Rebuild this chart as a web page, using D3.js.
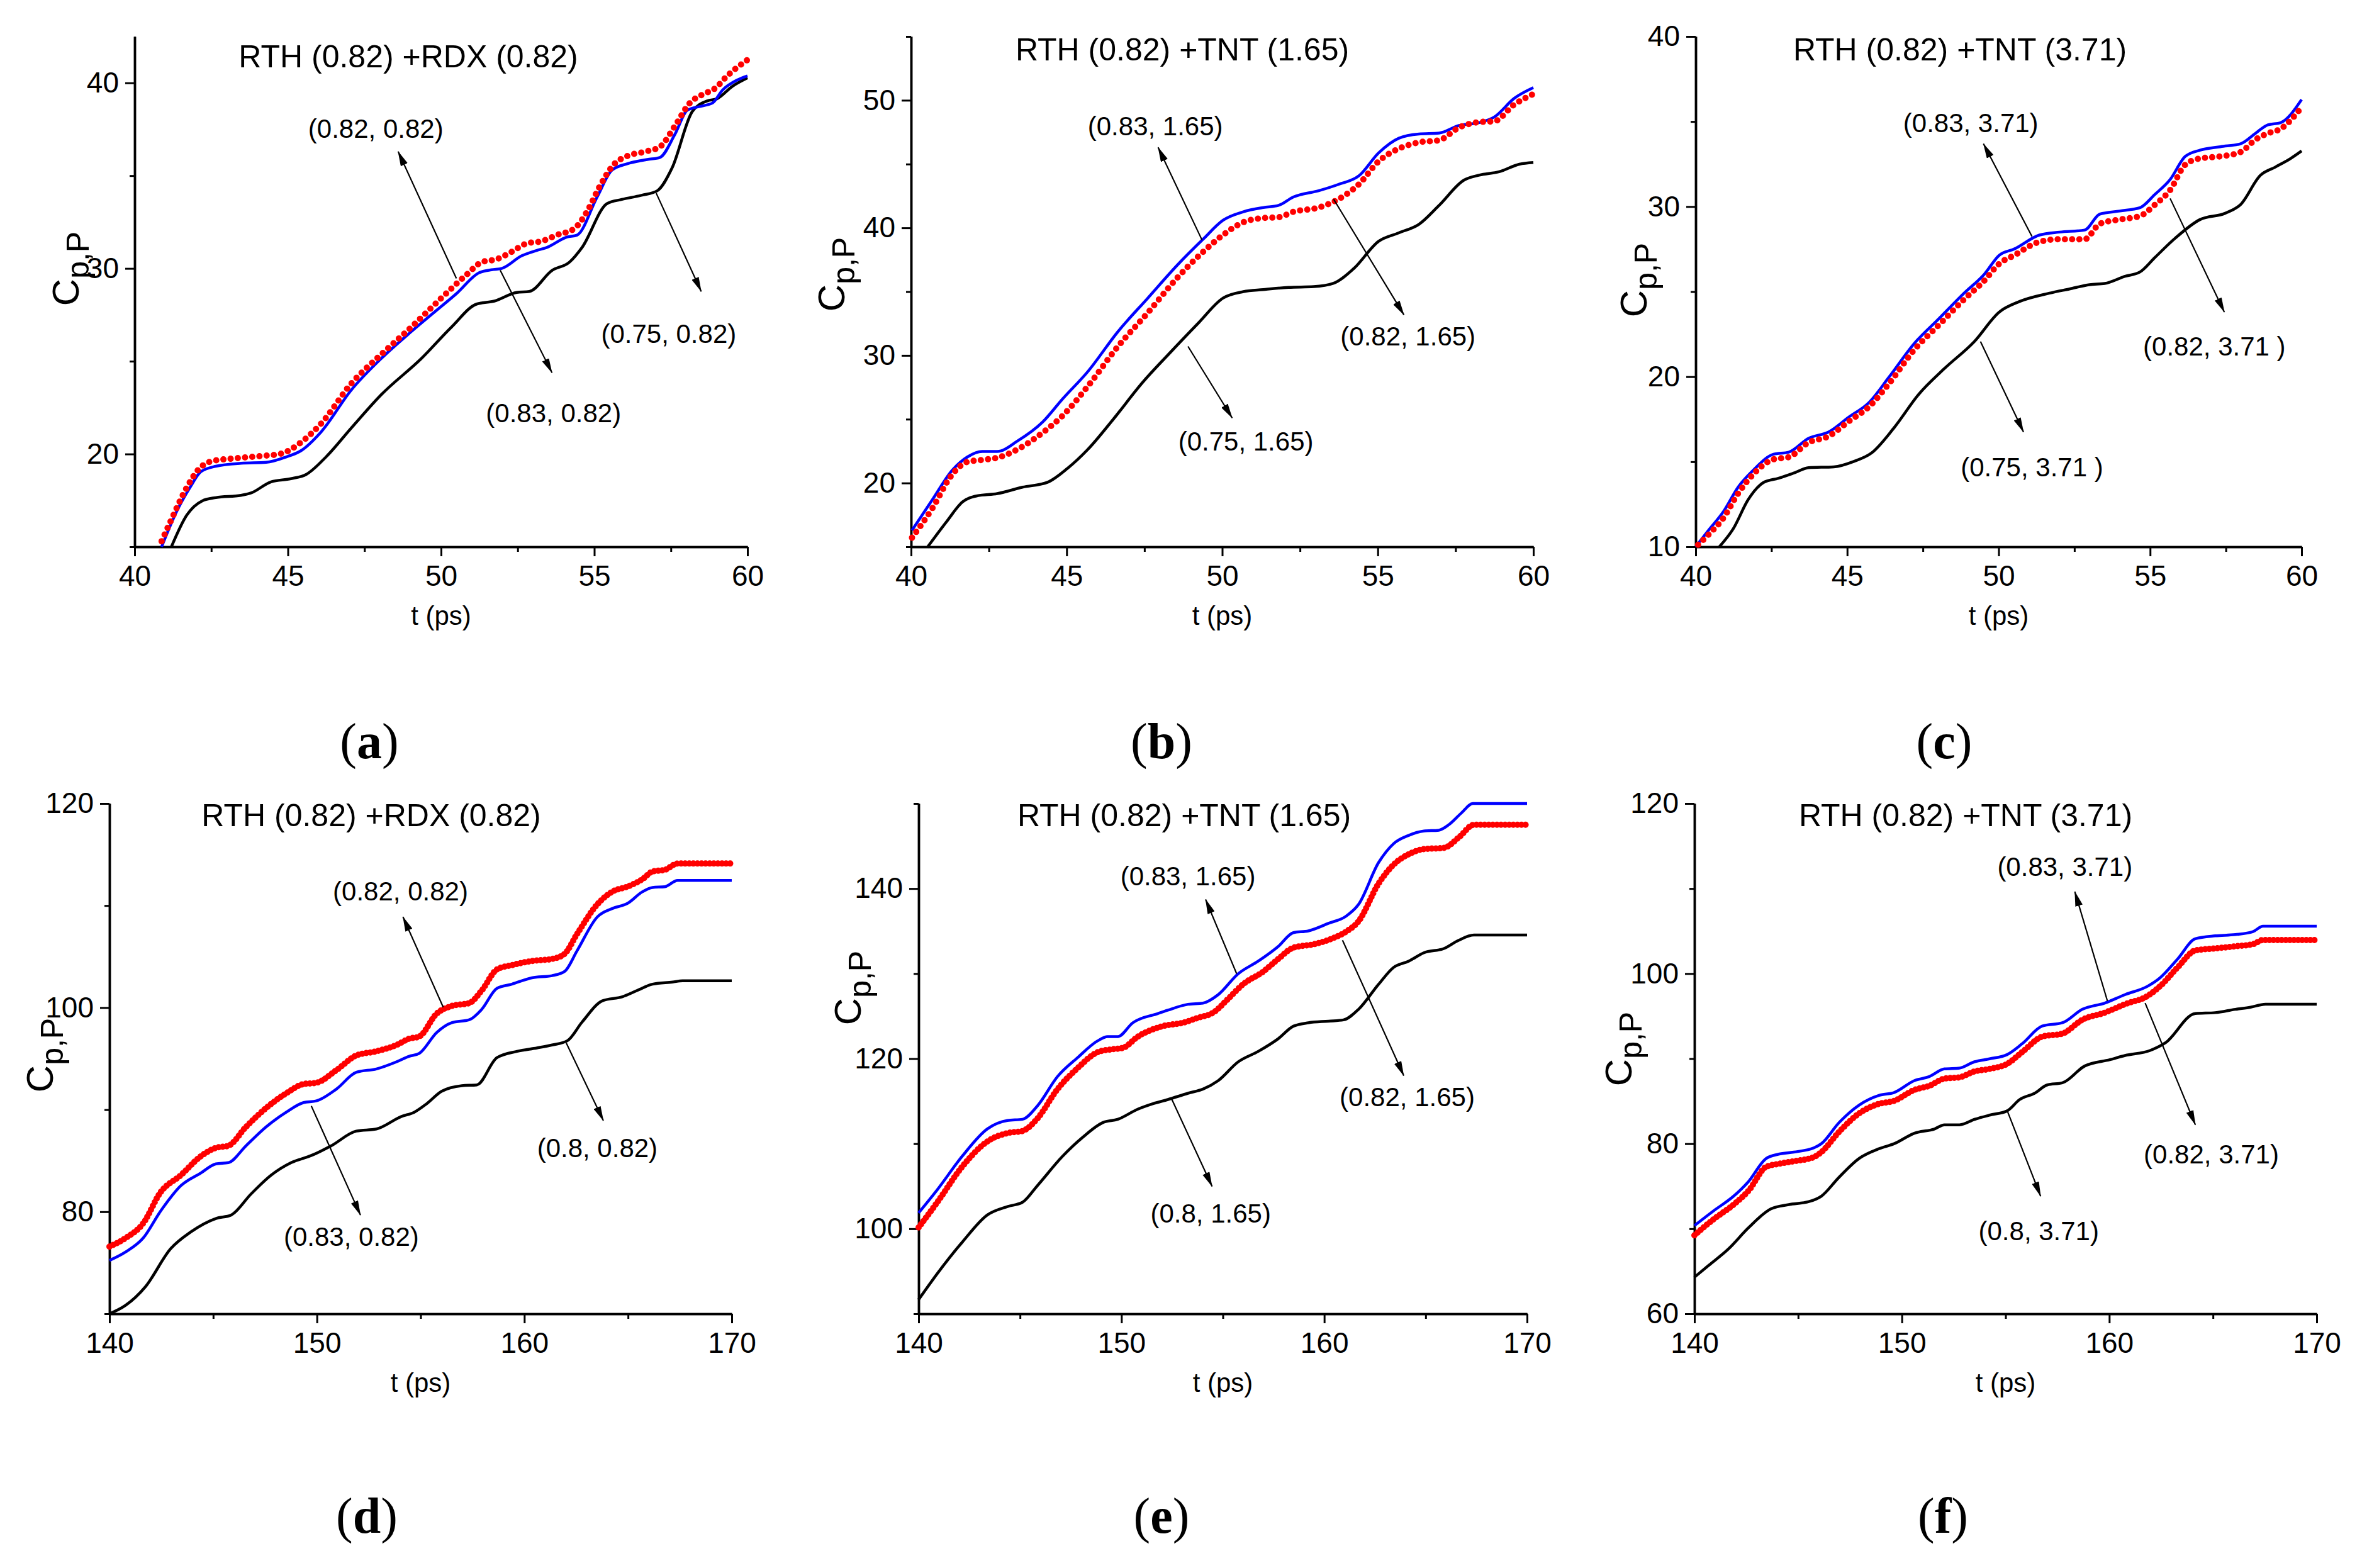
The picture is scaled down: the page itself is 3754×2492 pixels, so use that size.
<!DOCTYPE html>
<html><head><meta charset="utf-8">
<script src="https://cdn.jsdelivr.net/npm/d3@7/dist/d3.min.js"></script>
<style>
body{margin:0;background:#fff}
text{font-family:"Liberation Sans",Arial,Helvetica,sans-serif;fill:#000}
</style>
</head><body>
<svg id="chart" width="3754" height="2492"></svg>
<script>
// ---------------- DATA ----------------
// Panel (a)  RTH (0.82) +RDX (0.82)
const a_black = [[41.2,15.0],[41.7,16.7],[42.2,17.47],[42.65,17.65],[43.47,17.77],[43.8,17.9],[44.45,18.5],[45.1,18.67],[45.6,18.9],[46.25,19.85],[47.07,21.4],[48.05,23.2],[49.36,25.15],[50.34,26.84],[51.16,28.08],[51.74,28.24],[52.47,28.71],[52.88,28.76],[53.62,29.89],[54.19,30.34],[54.6,31.13],[55.42,33.5],[55.9,33.72],[56.56,33.95],[57.05,34.18],[57.54,35.42],[58.2,38.46],[58.69,39.03],[59.0,39.14],[59.51,39.82],[60,40.27]];
const a_blue = [[40.88,15.0],[41.34,16.8],[41.83,18.26],[42.16,19.05],[42.65,19.34],[43.47,19.5],[44.29,19.55],[44.94,19.84],[45.43,20.18],[46.09,21.2],[47.07,23.45],[48.05,25.15],[49.03,26.6],[49.85,27.74],[50.5,28.64],[51.24,29.77],[51.65,29.93],[51.98,30.0],[52.63,30.68],[53.12,30.97],[53.45,31.13],[54.1,31.69],[54.44,31.8],[55.09,33.84],[55.58,35.3],[56.07,35.64],[56.73,35.87],[57.14,35.98],[57.63,37.22],[58.04,38.53],[58.53,38.76],[58.86,38.92],[59.18,39.6],[59.67,40.16],[60,40.38]];
const a_red = [[40.88,15.3],[41.18,16.4],[41.67,18.1],[42.08,19.16],[42.49,19.6],[43.3,19.77],[44.12,19.89],[44.78,20.02],[45.43,20.63],[46.09,21.65],[47.07,23.8],[48.05,25.37],[49.03,26.84],[50.02,28.42],[50.83,29.66],[51.33,30.34],[51.82,30.5],[52.31,30.9],[52.8,31.35],[53.29,31.47],[53.78,31.8],[54.35,32.15],[54.76,33.05],[55.17,34.4],[55.66,35.64],[56.07,36.05],[56.73,36.32],[57.14,36.55],[57.63,37.67],[58.12,38.92],[58.53,39.37],[58.94,39.7],[59.34,40.38],[60,41.24]];

// Panel (b)  RTH (0.82) +TNT (1.65)
const b_black = [[40.52,14.95],[41.16,17.03],[41.65,18.51],[42.13,19.0],[42.77,19.17],[43.58,19.67],[44.39,20.06],[45.03,21.15],[45.68,22.63],[46.48,24.94],[47.45,27.91],[48.26,30.05],[49.23,32.53],[50.03,34.5],[50.68,35.0],[51.32,35.16],[52.13,35.33],[52.94,35.39],[53.58,35.66],[54.23,36.81],[55.03,38.95],[55.68,39.61],[56.32,40.27],[56.97,41.76],[57.77,43.74],[58.26,44.13],[58.9,44.4],[59.55,44.99],[60,45.12]];
const b_blue = [[40.03,16.3],[40.68,18.67],[41.32,20.99],[41.81,22.04],[42.29,22.47],[42.77,22.47],[43.42,23.29],[44.23,24.78],[44.87,26.59],[45.68,28.73],[46.65,31.87],[47.61,34.5],[48.58,37.14],[49.39,39.12],[50.03,40.6],[50.68,41.26],[51.32,41.59],[51.81,41.76],[52.29,42.42],[53.1,42.91],[53.74,43.41],[54.39,44.07],[55.03,45.88],[55.68,47.03],[56.32,47.36],[56.97,47.43],[57.61,48.02],[58.26,48.25],[58.74,48.68],[59.39,50.16],[60,50.99]];
const b_red = [[40.03,15.71],[40.68,18.0],[41.32,20.66],[41.81,21.65],[42.29,21.81],[42.77,21.98],[43.42,22.63],[44.23,23.95],[44.87,25.27],[45.68,27.58],[46.65,30.71],[47.61,33.35],[48.58,36.15],[49.39,38.13],[50.03,39.45],[50.68,40.44],[51.32,40.77],[51.81,40.83],[52.29,41.26],[53.1,41.59],[53.74,42.25],[54.39,43.41],[55.03,45.22],[55.68,46.21],[56.32,46.7],[56.97,46.87],[57.61,47.86],[58.26,48.29],[58.74,48.35],[59.39,49.67],[60,50.49]];

// Panel (c)  RTH (0.82) +TNT (3.71)
const c_black = [[40.78,10.0],[41.24,11.06],[41.74,12.79],[42.24,13.78],[42.73,14.03],[43.23,14.33],[43.73,14.65],[44.56,14.7],[45.22,15.02],[45.8,15.51],[46.55,17.0],[47.37,18.98],[48.2,20.46],[49.2,22.07],[50.02,23.8],[50.69,24.42],[51.68,24.91],[52.34,25.16],[53.0,25.41],[53.5,25.48],[54.17,25.9],[54.66,26.15],[55.16,27.01],[55.82,28.13],[56.65,29.24],[57.48,29.61],[57.98,30.11],[58.64,31.84],[59.14,32.33],[59.64,32.83],[60,33.27]];
const c_blue = [[40,10.0],[40.41,10.94],[40.91,12.05],[41.41,13.53],[41.91,14.52],[42.57,15.44],[43.07,15.56],[43.73,16.38],[44.39,16.75],[45.05,17.62],[45.72,18.48],[46.38,19.97],[47.21,21.94],[48.04,23.43],[48.86,24.91],[49.53,26.03],[50.02,27.14],[50.52,27.51],[51.35,28.33],[52.01,28.5],[52.84,28.62],[53.34,29.56],[54.0,29.74],[54.66,29.93],[55.16,30.72],[55.66,31.59],[56.16,32.95],[56.65,33.32],[57.32,33.52],[57.98,33.69],[58.48,34.31],[58.89,34.81],[59.3,34.93],[60,36.29]];
const c_red = [[40.08,10.12],[40.41,10.69],[40.91,11.68],[41.41,13.16],[41.91,14.28],[42.57,15.14],[43.07,15.27],[43.73,16.13],[44.39,16.5],[45.05,17.37],[45.72,18.23],[46.38,19.59],[47.21,21.57],[48.04,23.06],[48.86,24.54],[49.53,25.65],[50.02,26.64],[50.52,27.14],[51.35,27.93],[52.01,28.08],[52.84,28.08],[53.34,28.99],[54.0,29.24],[54.66,29.44],[55.16,30.11],[55.66,30.97],[56.16,32.46],[56.65,32.83],[57.32,32.95],[57.98,33.2],[58.48,33.94],[58.89,34.31],[59.3,34.56],[60,35.84]];

// Panel (d)  RTH (0.82) +RDX (0.82)
const d_black = [[140,70.0],[140.77,70.82],[141.74,72.67],[142.95,76.38],[143.92,78.02],[145.13,79.34],[145.86,79.67],[146.82,81.73],[147.79,83.58],[148.76,84.81],[149.73,85.51],[150.69,86.46],[151.9,87.9],[152.87,88.11],[154.08,89.34],[154.69,89.75],[155.29,90.58],[156.02,91.81],[156.99,92.35],[157.71,92.43],[158.68,95.1],[159.65,95.72],[160.61,96.05],[161.34,96.34],[162.07,96.75],[162.79,98.6],[163.76,100.66],[164.73,101.07],[165.45,101.69],[166.18,102.3],[167.15,102.51],[167.63,102.63],[170,102.63]];
const d_blue = [[140,75.23],[140.77,76.05],[141.62,77.41],[142.47,80.08],[143.44,82.55],[144.4,83.79],[145.13,84.69],[145.73,84.81],[146.58,86.46],[147.55,88.31],[148.52,89.75],[149.36,90.7],[149.97,90.86],[150.94,92.02],[151.9,93.66],[152.87,93.99],[153.84,94.69],[154.44,95.23],[154.93,95.51],[155.78,97.57],[156.5,98.52],[157.35,98.81],[157.95,99.84],[158.68,101.89],[159.4,102.3],[160.37,102.92],[161.34,103.13],[161.94,103.54],[162.55,105.6],[163.52,108.89],[164.24,109.71],[164.97,110.21],[165.7,111.36],[166.18,111.77],[166.78,111.85],[167.39,112.47],[170,112.47]];
const d_red = [[140,76.58],[140.77,77.41],[141.62,78.85],[142.47,81.93],[143.44,83.58],[144.4,85.43],[145.13,86.26],[145.73,86.46],[146.58,88.31],[147.55,90.16],[148.52,91.6],[149.36,92.51],[149.97,92.63],[150.94,93.87],[151.9,95.31],[152.87,95.72],[153.84,96.34],[154.44,96.95],[154.93,97.16],[155.78,99.42],[156.5,100.16],[157.35,100.45],[157.95,101.69],[158.68,103.74],[159.4,104.16],[160.37,104.57],[161.34,104.77],[161.94,105.27],[162.55,107.24],[163.52,110.12],[164.24,111.36],[164.97,111.85],[165.7,112.59],[166.18,113.33],[166.78,113.5],[167.39,114.12],[170,114.12]];

// Panel (e)  RTH (0.82) +TNT (1.65)
const e_black = [[140,91.67],[140.92,94.72],[142.15,98.42],[143.39,101.63],[144.38,102.61],[145.12,103.11],[145.86,105.08],[147.1,108.53],[148.09,110.75],[149.08,112.48],[149.82,112.87],[150.81,114.06],[151.55,114.7],[152.29,115.19],[153.28,115.93],[154.02,116.42],[154.77,117.41],[155.76,119.63],[156.75,120.86],[157.73,122.34],[158.48,123.82],[159.22,124.22],[160.21,124.41],[160.95,124.56],[161.69,125.8],[162.68,128.75],[163.42,130.73],[164.17,131.47],[164.91,132.45],[165.9,132.95],[166.64,133.93],[167.38,134.53],[170,134.53]];
const e_blue = [[140,101.87],[140.92,104.59],[142.15,108.53],[143.39,111.74],[144.38,112.73],[145.12,112.87],[145.86,114.45],[146.85,117.9],[147.84,120.12],[148.83,122.1],[149.32,122.59],[149.82,122.59],[150.56,124.22],[151.8,125.3],[152.29,125.7],[153.28,126.39],[154.02,126.53],[154.77,127.52],[155.76,129.99],[156.75,131.47],[157.73,133.19],[158.48,134.82],[159.22,135.02],[160.21,135.91],[161.07,136.74],[161.69,138.13],[162.68,143.06],[163.42,145.28],[164.17,146.26],[164.91,146.76],[165.65,146.86],[166.14,147.5],[166.76,148.88],[167.33,150.0],[170,150.0]];
const e_red = [[140,100.15],[140.92,103.11],[142.15,107.3],[143.39,110.26],[144.38,111.25],[145.12,111.49],[145.86,112.97],[146.85,116.42],[147.84,118.89],[148.83,120.76],[149.57,121.11],[150.07,121.26],[150.81,122.59],[152.04,123.82],[153.03,124.22],[153.78,124.81],[154.52,125.4],[155.26,127.03],[156.0,128.75],[156.99,130.23],[157.73,131.72],[158.48,133.05],[159.47,133.44],[160.45,134.18],[161.07,134.92],[161.69,136.15],[162.68,140.59],[163.42,142.81],[164.17,144.04],[164.91,144.64],[165.9,144.78],[166.64,146.02],[167.38,147.5],[170,147.5]];

// Panel (f)  RTH (0.82) +TNT (3.71)
const f_black = [[140,64.3],[140.68,65.68],[141.65,67.65],[142.61,70.12],[143.7,72.35],[144.55,72.84],[145.52,73.19],[146.12,73.83],[146.97,76.05],[147.94,78.27],[148.9,79.41],[149.63,80.0],[150.6,81.23],[151.57,81.73],[152.05,82.22],[152.78,82.22],[153.5,82.86],[154.23,83.36],[155.07,83.85],[155.68,85.19],[156.4,85.93],[157.01,86.91],[157.74,87.16],[158.82,89.14],[160.03,89.88],[160.76,90.37],[161.97,90.96],[162.7,91.85],[164.15,95.31],[165.11,95.41],[166.08,95.8],[166.81,96.05],[167.53,96.4],[170,96.4]];
const f_blue = [[140,70.37],[140.92,72.1],[141.89,73.83],[142.61,75.56],[143.46,78.27],[144.06,78.77],[144.79,79.01],[145.76,79.51],[146.12,80.0],[146.97,82.47],[147.94,84.54],[148.9,85.68],[149.63,86.02],[150.6,87.41],[151.33,87.9],[152.05,88.79],[152.78,88.89],[153.5,89.63],[154.23,89.98],[155.07,90.47],[155.8,91.75],[156.77,93.83],[157.74,94.22],[158.7,95.8],[159.79,96.54],[160.76,97.53],[161.85,98.52],[162.45,99.51],[163.3,101.73],[164.15,104.1],[165.11,104.44],[166.08,104.59],[166.93,104.94],[167.41,105.58],[170,105.58]];
const f_red = [[140,69.23],[140.92,71.11],[141.89,72.84],[142.61,74.47],[143.46,77.28],[144.06,77.63],[144.79,77.93],[145.76,78.42],[146.12,79.01],[146.97,81.38],[147.94,83.56],[148.9,84.69],[149.63,85.04],[150.6,86.32],[151.33,86.81],[152.05,87.65],[152.78,87.8],[153.5,88.49],[154.23,88.79],[155.07,89.38],[155.8,90.77],[156.77,92.59],[157.74,92.94],[158.7,94.57],[159.79,95.41],[160.76,96.4],[161.85,97.38],[162.45,98.52],[163.3,100.74],[164.15,102.72],[165.11,102.96],[166.08,103.21],[166.93,103.46],[167.41,103.95],[170,103.95]];

// Titles and panel letters
const titles = ["RTH (0.82) +RDX (0.82)","RTH (0.82) +TNT (1.65)","RTH (0.82) +TNT (3.71)","RTH (0.82) +RDX (0.82)","RTH (0.82) +TNT (1.65)","RTH (0.82) +TNT (3.71)"];
const letters = ["a","b","c","d","e","f"];

// Axis domains and tick values
const xDomTop = [40,60], xTicksTop = [40,45,50,55,60], xMinorTop = [42.5,47.5,52.5,57.5];
const xDomBot = [140,170], xTicksBot = [140,150,160,170], xMinorBot = [145,155,165];
const yDoms = [[15,42.5],[15,55],[10,40],[70,120],[90,150],[60,120]];
const yTicks = [[20,30,40],[20,30,40,50],[10,20,30,40],[80,100,120],[100,120,140],[60,80,100,120]];
const yMinor = [[15,25,35],[15,25,35,45,55],[15,25,35],[70,90,110],[90,110,130,150],[70,90,110]];

// Annotations: label centre, arrow tail (on curve) and head, in data units
const a_notes = [{t:"(0.82, 0.82)",l:[47.87,37.56],s:[50.5,29.46],e:[48.6,36.3]},{t:"(0.83, 0.82)",l:[53.67,22.23],s:[51.93,29.9],e:[53.62,24.38]},{t:"(0.75, 0.82)",l:[57.43,26.5],s:[57.02,34.06],e:[58.49,28.76]}];
const b_notes = [{t:"(0.83, 1.65)",l:[47.85,48.02],s:[49.35,39.05],e:[47.94,46.31]},{t:"(0.82, 1.65)",l:[55.97,31.54],s:[53.58,42.25],e:[55.84,33.18]},{t:"(0.75, 1.65)",l:[50.76,23.29],s:[48.9,30.71],e:[50.32,25.1]}];
const c_notes = [{t:"(0.83, 3.71)",l:[49.08,34.93],s:[51.1,28.25],e:[49.5,33.69]},{t:"(0.82, 3.71 )",l:[57.12,21.82],s:[55.66,30.48],e:[57.45,23.8]},{t:"(0.75, 3.71 )",l:[51.1,14.72],s:[49.4,22.07],e:[50.82,16.75]}];
const d_notes = [{t:"(0.82, 0.82)",l:[154.03,111.44],s:[156.09,100.04],e:[154.15,108.89]},{t:"(0.83, 0.82)",l:[151.66,77.61],s:[149.73,90.37],e:[152.1,79.67]},{t:"(0.8, 0.82)",l:[163.52,86.26],s:[162.02,96.54],e:[163.81,88.93]}];
const e_notes = [{t:"(0.83, 1.65)",l:[153.28,141.48],s:[155.68,129.99],e:[154.15,138.72]},{t:"(0.82, 1.65)",l:[164.09,115.54],s:[160.9,133.93],e:[163.92,118.0]},{t:"(0.8, 1.65)",l:[154.4,101.87],s:[152.49,115.19],e:[154.47,104.98]}];
const f_notes = [{t:"(0.83, 3.71)",l:[157.86,112.59],s:[159.91,96.79],e:[158.34,109.63]},{t:"(0.82, 3.71)",l:[164.92,78.77],s:[161.73,96.54],e:[164.15,82.22]},{t:"(0.8, 3.71)",l:[156.6,69.78],s:[155.07,83.95],e:[156.69,73.83]}];

// ---------------- LAYOUT (pixels) ----------------
const layout = [
  {x0:214, x1:1188, y0:58,   y1:869,  tx:649,  ty:107,  lx:587,  ly:1205, yl:89,  yc:427},
  {x0:1448,x1:2437, y0:58,   y1:869,  tx:1879, ty:96,   lx:1846, ly:1205, yl:106, yc:436},
  {x0:2695,x1:3658, y0:58,   y1:869,  tx:3115, ty:96,   lx:3090, ly:1205, yl:78,  yc:445},
  {x0:174, x1:1163, y0:1277, y1:2088, tx:590,  ty:1313, lx:583,  ly:2436, yl:90,  yc:1677},
  {x0:1460,x1:2427, y0:1277, y1:2088, tx:1882, ty:1313, lx:1846, ly:2436, yl:92,  yc:1570},
  {x0:2693,x1:3682, y0:1277, y1:2088, tx:3124, ty:1313, lx:3088, ly:2436, yl:100, yc:1667}
];

const series = [
  [a_black,a_blue,a_red],[b_black,b_blue,b_red],[c_black,c_blue,c_red],
  [d_black,d_blue,d_red],[e_black,e_blue,e_red],[f_black,f_blue,f_red]
];
const notes = [a_notes,b_notes,c_notes,d_notes,e_notes,f_notes];

// ---------------- DRAW ----------------
const svg = d3.select("#chart");
svg.append("rect").attr("width",3754).attr("height",2492).attr("fill","#fff");

const defs = svg.append("defs");
defs.append("marker").attr("id","arrow")
  .attr("viewBox","0 0 24 12").attr("refX",23).attr("refY",6)
  .attr("markerWidth",24).attr("markerHeight",12)
  .attr("markerUnits","userSpaceOnUse").attr("orient","auto")
  .append("path").attr("d","M0,0L24,6L0,12Z").attr("fill","#000");

layout.forEach((L,i)=>{
  const top = i < 3;
  const x = d3.scaleLinear().domain(top?xDomTop:xDomBot).range([L.x0,L.x1]);
  const y = d3.scaleLinear().domain(yDoms[i]).range([L.y1,L.y0]);
  const g = svg.append("g");

  // axes
  const xAx = d3.axisBottom(x).tickValues(top?xTicksTop:xTicksBot).tickSize(15).tickSizeOuter(0).tickPadding(14);
  const xMin = d3.axisBottom(x).tickValues(top?xMinorTop:xMinorBot).tickSize(8).tickSizeOuter(0).tickFormat("");
  const yAx = d3.axisLeft(y).tickValues(yTicks[i]).tickSize(15).tickSizeOuter(0).tickPadding(10);
  const yMin = d3.axisLeft(y).tickValues(yMinor[i]).tickSize(8).tickSizeOuter(0).tickFormat("");

  [ [xAx,true],[xMin,true],[yAx,false],[yMin,false] ].forEach(([ax,isX])=>{
    const ag = g.append("g").attr("transform", isX?`translate(0,${L.y1})`:`translate(${L.x0},0)`).call(ax);
    ag.select(".domain").attr("stroke","#000").attr("stroke-width",3.5);
    ag.selectAll(".tick line").attr("stroke","#000").attr("stroke-width",3);
    ag.selectAll(".tick text").attr("font-size",46).attr("fill","#000")
      .style("font-family",'"Liberation Sans",Arial,sans-serif');
  });

  // axis titles
  g.append("text").attr("x",(L.x0+L.x1)/2).attr("y",L.y1+124)
    .attr("text-anchor","middle").attr("font-size",42).text("t (ps)");
  const yt = g.append("text")
    .attr("transform",`translate(${L.x0-L.yl},${L.yc}) rotate(-90)`)
    .attr("text-anchor","middle");
  yt.append("tspan").attr("font-size",60).text("C");
  yt.append("tspan").attr("font-size",50).attr("dy",16).text("p,P");

  // chart title
  g.append("text").attr("x",L.tx).attr("y",L.ty).attr("text-anchor","middle")
    .attr("font-size",50).text(titles[i]);

  // curves
  const line = d3.line().x(d=>x(d[0])).y(d=>y(d[1])).curve(d3.curveMonotoneX);
  const [bk,bl,rd] = series[i];
  g.append("path").datum(bk).attr("d",line).attr("fill","none").attr("stroke","#000").attr("stroke-width",4.5);
  g.append("path").datum(bl).attr("d",line).attr("fill","none").attr("stroke","#0000ff").attr("stroke-width",4.5);
  g.append("path").datum(rd).attr("d",line).attr("fill","none").attr("stroke","#ff0000")
    .attr("stroke-width",10).attr("stroke-linecap","round")
    .attr("stroke-dasharray", top ? "0 11.5" : "0 6.5");

  // annotations
  notes[i].forEach(n=>{
    g.append("line").attr("x1",x(n.s[0])).attr("y1",y(n.s[1]))
      .attr("x2",x(n.e[0])).attr("y2",y(n.e[1]))
      .attr("stroke","#000").attr("stroke-width",2.2).attr("marker-end","url(#arrow)");
    g.append("text").attr("x",x(n.l[0])).attr("y",y(n.l[1])).attr("dy","0.36em")
      .attr("text-anchor","middle").attr("font-size",42).text(n.t);
  });

  // panel letter
  const pl = svg.append("text").attr("x",L.lx).attr("y",L.ly).attr("text-anchor","middle")
    .attr("font-size",80).style("font-family",'"Liberation Serif","Times New Roman",serif');
  pl.append("tspan").text("(");
  pl.append("tspan").attr("font-weight","bold").text(letters[i]);
  pl.append("tspan").text(")");
});
</script>
</body></html>
